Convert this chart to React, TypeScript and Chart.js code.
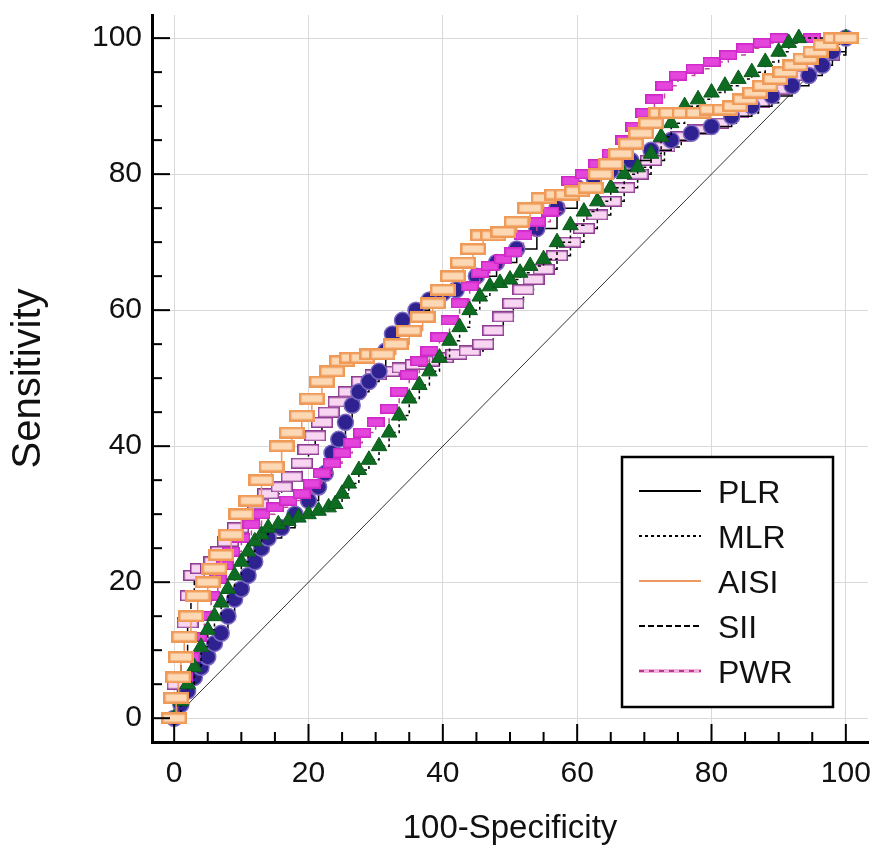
import React, { useEffect, useRef } from "react";
import { Chart, registerables } from "chart.js";

Chart.register(...registerables);

const TICK_VALUES = [0, 20, 40, 60, 80, 100];
const LEGEND_LABELS = ["PLR", "MLR", "AISI", "SII", "PWR"];
const X_TITLE = "100-Specificity";
const Y_TITLE = "Sensitivity";

const DIAG_X = [0, 100];
const DIAG_Y = [0, 100];

const PLR_X = [0, 1, 2, 3, 4, 5, 6, 7, 8, 9, 10, 11, 12, 13, 14, 16, 18, 20, 21.5, 22.5, 23.5, 24.5, 25.5, 26.5, 27.5, 29, 30.5, 31.5, 32.5, 34, 36, 38, 40, 42, 45, 48, 51, 54, 57, 60, 62.5, 65, 68, 71, 74, 77, 80, 83, 86, 89, 92, 94.5, 96.5, 98, 100];
const PLR_Y = [0, 2, 4, 6, 7.5, 9, 11, 12.5, 15, 17.5, 19, 21, 23, 25, 26.5, 28, 30, 32, 34, 36, 39, 41, 43.5, 46, 48, 49.5, 51, 54, 56.5, 58.5, 60, 61.5, 62.5, 63, 65, 67, 69, 72, 75, 78, 79.5, 80.5, 82, 83.5, 85, 86, 87, 88.5, 90, 91.5, 93, 94.5, 96, 98, 100];

const MLR_X = [0, 1, 2, 3, 4, 5, 6, 7, 8, 9, 10, 11, 12, 13, 14, 15.5, 17, 18.5, 20, 21.5, 23, 24, 25, 26, 27.5, 29, 30.5, 32, 33.5, 35, 36.5, 38, 39.5, 41, 42.5, 44, 45.5, 47, 48.5, 50, 51.5, 53, 55, 57, 59, 61, 63, 65, 67, 69, 71, 72.5, 74, 76, 78, 80, 82, 84, 86, 88, 90, 91.5, 93, 100];
const MLR_Y = [0, 2.5, 5, 7.5, 10.5, 13, 15, 17, 19, 21, 23, 24.5, 26, 27, 28, 28.5, 29, 29.5, 30, 30.5, 31, 31.5, 33, 34.5, 36.5, 38, 40, 42, 44.5, 47, 49, 51, 53, 55.5, 57.5, 60, 62, 63.5, 64, 64.5, 65.5, 66.5, 67.5, 70, 72.5, 74.5, 76, 78, 80, 81, 83, 85.5, 87.5, 90, 91, 92, 93, 94, 95, 96.5, 98, 99.3, 100, 100];

const AISI_X = [0, 0.3, 0.6, 1, 1.5, 2.5, 3.5, 5, 6, 7, 8.5, 10, 11.5, 13, 14.5, 16, 17.5, 19, 20.5, 22, 23.5, 25, 26.5, 28, 29.5, 31, 33, 35, 37, 38.5, 40, 41.5, 43, 44.5, 46, 47.5, 49, 51, 53, 55, 57, 58.5, 60, 62, 63.5, 65, 66.5, 68, 69.5, 71, 72.5, 74, 76, 78, 80, 82, 83.5, 85, 86.5, 88, 89.5, 91, 92.5, 94, 95.5, 97, 98.5, 100];
const AISI_Y = [0, 3, 6, 9, 12, 15, 18, 20, 22, 24, 27, 30, 32, 35, 37, 40, 42, 44.5, 47, 49.5, 51, 52.5, 53, 53, 53.5, 53.5, 55, 57, 59, 61, 63, 65, 67, 69, 71, 71, 71.5, 73, 75, 76.5, 77, 77, 77.5, 78, 80, 81.5, 83, 84.5, 86, 87.5, 89, 89, 89, 89, 89.5, 89.5, 90, 91, 92, 93, 94, 95, 96, 97, 98, 99, 100, 100];

const SII_X = [0, 0.5, 1, 2, 2.5, 3, 4, 5.5, 6, 7, 8, 9.5, 11, 12.5, 14, 16, 17.5, 19, 20, 21, 22, 23, 24.5, 26, 28, 30, 32, 34, 36, 38, 40, 42, 44, 46, 47.5, 49, 50.5, 52, 53.5, 55, 57, 59, 61, 63, 65, 67, 69, 71, 73, 75.5, 78, 81, 84, 87, 90, 93, 95.5, 97.5, 100];
const SII_Y = [0, 5, 9, 14, 18, 21, 22, 22, 23, 24.5, 26, 28, 30, 31.5, 33, 34, 35.5, 37.5, 39.5, 41.5, 43.5, 45, 46.5, 48, 49.5, 50.5, 51, 51.5, 52, 52.5, 53, 53.5, 54, 55, 57, 59, 61, 63, 64.5, 66, 68, 70, 72, 74, 76, 78, 80, 82, 84, 85.5, 86.5, 87.5, 89, 90.5, 92.5, 94.5, 96, 97.5, 100];

const PWR_X = [0, 0.5, 1.5, 2.5, 3.5, 4.5, 5.5, 6.5, 7.5, 8.5, 10, 11.5, 13, 15, 17, 19, 20.5, 22, 23.5, 25, 26.5, 28, 30, 32, 33.5, 35, 36.5, 38, 39.5, 41, 42.5, 44, 45.5, 47, 49, 50.5, 52, 54, 56, 58, 59, 61, 63, 65, 67, 68.5, 70, 71.5, 73, 75, 77.5, 80, 82.5, 85, 87.5, 90, 95, 100];
const PWR_Y = [0, 3, 6, 9, 12, 15, 18, 20.5, 22.5, 24.5, 26.5, 28.5, 30, 31, 32, 33, 34.5, 36, 37.5, 39, 40.5, 42, 43.5, 45.5, 48, 50.5, 52.5, 54, 56, 58.5, 61, 63.5, 65.5, 66.5, 67.5, 68.5, 71, 73, 74.5, 77, 79, 80, 81.5, 83, 85, 87, 89, 91, 93, 94.5, 95.5, 96.5, 97.5, 98.5, 99.3, 100, 100, 100];

const FONT = "'Liberation Sans', Arial, Helvetica, sans-serif";

function pts(xs: number[], ys: number[]) {
  return xs.map((x, i) => ({ x, y: ys[i] }));
}

function rectMarker(w: number, h: number, fill: string, stroke: string, lw: number) {
  const c = document.createElement("canvas");
  c.width = w;
  c.height = h;
  const g = c.getContext("2d")!;
  g.fillStyle = fill;
  g.fillRect(0, 0, w, h);
  g.strokeStyle = stroke;
  g.lineWidth = lw;
  g.strokeRect(lw / 2, lw / 2, w - lw, h - lw);
  return c;
}

export default function App() {
  const ref = useRef<HTMLCanvasElement>(null);

  useEffect(() => {
    const canvas = ref.current;
    if (!canvas) return;

    const aisiMarker = rectMarker(26, 12, "#fcd8b4", "#f09a58", 2.5);
    const siiMarker = rectMarker(22, 11, "#f8d6f2", "#8e3c92", 1.5);
    const pwrMarker = rectMarker(18, 10, "#e446dc", "#d028c8", 1.5);

    const legendStyles = [
      { color: "#000", width: 2, dash: [] as number[] },
      { color: "#000", width: 2, dash: [3, 3] },
      { color: "#ec9a62", width: 2, dash: [] as number[] },
      { color: "#000", width: 2, dash: [6, 3] },
      { color: "#b43a8a", width: 2, dash: [5, 5] },
    ];

    const innerTicks = {
      id: "innerTicks",
      afterDatasetsDraw(chart: any) {
        const { ctx, chartArea, scales } = chart;
        const xs = scales.x;
        const ys = scales.y;
        ctx.save();
        ctx.strokeStyle = "#000";
        ctx.lineWidth = 2;
        for (let v = 0; v <= 100; v += 5) {
          const len = v % 20 === 0 ? 18 : 10;
          const px = xs.getPixelForValue(v);
          ctx.beginPath();
          ctx.moveTo(px, chartArea.bottom);
          ctx.lineTo(px, chartArea.bottom - len);
          ctx.stroke();
          const py = ys.getPixelForValue(v);
          ctx.beginPath();
          ctx.moveTo(chartArea.left, py);
          ctx.lineTo(chartArea.left + len, py);
          ctx.stroke();
        }
        ctx.restore();
      },
    };

    const boxLegend = {
      id: "boxLegend",
      afterDraw(chart: any) {
        const { ctx, chartArea } = chart;
        const left = chartArea.right - 246;
        const top = chartArea.bottom - 285;
        const w = 211;
        const h = 250;
        ctx.save();
        ctx.fillStyle = "#fff";
        ctx.fillRect(left, top, w, h);
        ctx.strokeStyle = "#000";
        ctx.lineWidth = 2.5;
        ctx.setLineDash([]);
        ctx.strokeRect(left, top, w, h);
        LEGEND_LABELS.forEach((label, i) => {
          const cy = top + 34 + i * 45;
          const s = legendStyles[i];
          if (label === "PWR") {
            ctx.beginPath();
            ctx.setLineDash([]);
            ctx.strokeStyle = "#f2b0dc";
            ctx.lineWidth = 4;
            ctx.moveTo(left + 17, cy);
            ctx.lineTo(left + 79, cy);
            ctx.stroke();
          }
          ctx.beginPath();
          ctx.setLineDash(s.dash);
          ctx.strokeStyle = s.color;
          ctx.lineWidth = s.width;
          ctx.moveTo(left + 17, cy);
          ctx.lineTo(left + 79, cy);
          ctx.stroke();
          ctx.setLineDash([]);
          ctx.fillStyle = "#111";
          ctx.font = `32px ${FONT}`;
          ctx.textBaseline = "middle";
          ctx.textAlign = "left";
          ctx.fillText(label, left + 96, cy + 3);
        });
        ctx.restore();
      },
    };

    const tickCallback = (v: any) => (TICK_VALUES.includes(Number(v)) ? String(v) : "");

    const chart = new Chart(canvas, {
      type: "line",
      data: {
        datasets: [
          {
            label: "Reference",
            data: pts(DIAG_X, DIAG_Y),
            borderColor: "#333",
            borderWidth: 1,
            pointRadius: 0,
            fill: false,
            order: 6,
          },
          {
            label: "SII",
            data: pts(SII_X, SII_Y),
            borderColor: "#000",
            borderDash: [6, 3],
            borderWidth: 1.5,
            stepped: true,
            pointStyle: siiMarker as any,
            pointRadius: 6,
            fill: false,
            order: 5,
          },
          {
            label: "PLR",
            data: pts(PLR_X, PLR_Y),
            borderColor: "#000",
            borderWidth: 1.5,
            stepped: true,
            pointStyle: "circle",
            pointRadius: 8,
            pointBackgroundColor: "#2e2190",
            pointBorderColor: "#7d68c0",
            pointBorderWidth: 1.5,
            fill: false,
            order: 4,
          },
          {
            label: "PWR",
            data: pts(PWR_X, PWR_Y),
            borderColor: "#c2479c",
            borderDash: [5, 5],
            borderWidth: 1.5,
            stepped: true,
            pointStyle: pwrMarker as any,
            pointRadius: 6,
            fill: false,
            order: 3,
          },
          {
            label: "MLR",
            data: pts(MLR_X, MLR_Y),
            borderColor: "#000",
            borderDash: [3, 3],
            borderWidth: 1.5,
            stepped: true,
            pointStyle: "triangle",
            pointRadius: 9,
            pointBackgroundColor: "#0e6b22",
            pointBorderColor: "#0a5a1a",
            pointBorderWidth: 1,
            fill: false,
            order: 2,
          },
          {
            label: "AISI",
            data: pts(AISI_X, AISI_Y),
            borderColor: "#ec9a62",
            borderWidth: 1.5,
            stepped: true,
            pointStyle: aisiMarker as any,
            pointRadius: 6,
            fill: false,
            order: 1,
          },
        ],
      },
      options: {
        responsive: false,
        animation: false,
        devicePixelRatio: 1,
        layout: { padding: { left: 0, right: 6, top: 15, bottom: 0 } },
        plugins: {
          legend: { display: false },
          tooltip: { enabled: false },
        },
        scales: {
          x: {
            type: "linear",
            min: -3.3,
            max: 103.3,
            afterFit: (s: any) => {
              s.height = 107;
              s.paddingLeft = 0;
              s.paddingRight = 0;
            },
            border: { display: true, color: "#000", width: 3 },
            grid: { color: "#d9d9d9", lineWidth: 1, drawTicks: false },
            ticks: {
              stepSize: 20,
              includeBounds: false,
              autoSkip: false,
              maxRotation: 0,
              padding: 14,
              color: "#111",
              font: { family: FONT, size: 30 },
              callback: tickCallback,
            },
            title: {
              display: true,
              text: X_TITLE,
              color: "#111",
              font: { family: FONT, size: 33 },
              padding: { top: 0, bottom: 0 },
            },
          },
          y: {
            type: "linear",
            min: -3.5,
            max: 103.4,
            afterFit: (s: any) => {
              s.width = 152;
              s.paddingTop = 0;
              s.paddingBottom = 0;
            },
            border: { display: true, color: "#000", width: 3 },
            grid: { color: "#d9d9d9", lineWidth: 1, drawTicks: false },
            ticks: {
              stepSize: 20,
              includeBounds: false,
              autoSkip: false,
              padding: 10,
              color: "#111",
              font: { family: FONT, size: 30 },
              callback: tickCallback,
            },
            title: {
              display: true,
              text: Y_TITLE,
              color: "#111",
              font: { family: FONT, size: 40 },
              padding: { top: 5, bottom: 0 },
            },
          },
        },
      },
      plugins: [innerTicks, boxLegend],
    } as any);

    return () => chart.destroy();
  }, []);

  return (
    <div style={{ position: "absolute", left: 0, top: 0, width: 878, height: 849, background: "#fff" }}>
      <canvas ref={ref} width={878} height={849} style={{ display: "block" }} />
    </div>
  );
}
